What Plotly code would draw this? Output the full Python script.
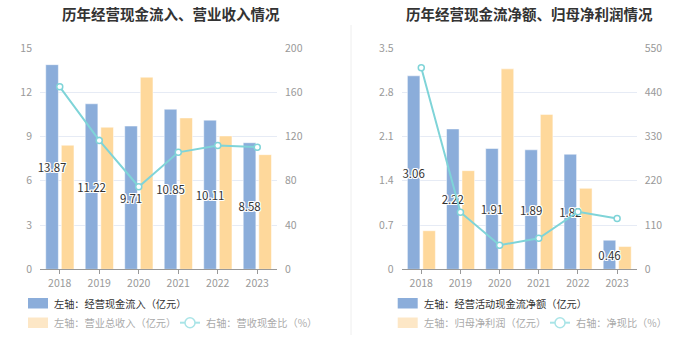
import plotly.graph_objects as go

W, H = 700, 359
FONT = "Noto Sans CJK SC"

years = ["2018", "2019", "2020", "2021", "2022", "2023"]
# Left chart
cash_inflow = [13.87, 11.22, 9.71, 10.85, 10.11, 8.58]
revenue = [8.41, 9.63, 13.02, 10.26, 9.04, 7.77]
inflow_ratio = [164.9, 116.5, 74.6, 105.7, 111.8, 110.4]
# Right chart
net_cash = [3.06, 2.22, 1.91, 1.89, 1.82, 0.46]
net_profit = [0.61, 1.56, 3.17, 2.45, 1.28, 0.36]
net_ratio = [501, 142, 60, 77, 143, 126]

left_ticks = [0, 3, 6, 9, 12, 15]
left_ticks_r = [0, 40, 80, 120, 160, 200]
right_ticks = [0, 0.7, 1.4, 2.1, 2.8, 3.5]
right_ticks_r = [0, 110, 220, 330, 440, 550]

titles = ["历年经营现金流入、营业收入情况", "历年经营现金流净额、归母净利润情况"]
legend_left = ["左轴：经营现金流入（亿元）", "左轴：营业总收入（亿元）", "右轴：营收现金比（%）"]
legend_right = ["左轴：经营活动现金流净额（亿元）", "左轴：归母净利润（亿元）", "右轴：净现比（%）"]

BLUE = "#8badda"
YELLOW = "#fed89b"
TEAL = "#7fd4d8"
SHADOW = "1px 1px 0 #fff, -1px -1px 0 #fff, 1px -1px 0 #fff, -1px 1px 0 #fff, 0 1px 0 #fff, 0 -1px 0 #fff, 1px 0 0 #fff, -1px 0 0 #fff"

BW = 0.32
B_OFF = -0.355
Y_OFF = 0.04

def px(x):
    return x / W

def py(y):
    return 1 - y / H

fig = go.Figure()

def add_chart(xa, ya, ya2, blue, yellow, ratio):
    fig.add_trace(go.Bar(
        x=years, y=blue, xaxis=xa, yaxis=ya, width=BW, offset=B_OFF,
        marker=dict(color=BLUE, line=dict(color="#fff", width=0.5)),
        showlegend=False, hoverinfo="skip"))
    fig.add_trace(go.Bar(
        x=years, y=yellow, xaxis=xa, yaxis=ya, width=BW, offset=Y_OFF,
        marker=dict(color=YELLOW, line=dict(color="#fff", width=0.5)),
        showlegend=False, hoverinfo="skip"))
    # value labels, drawn above both bar series
    fig.add_trace(go.Bar(
        x=years, y=blue, xaxis=xa, yaxis=ya, width=BW, offset=B_OFF,
        marker=dict(color="rgba(0,0,0,0)", line=dict(width=0)),
        text=[f"{v:.2f}" for v in blue], textposition="inside", insidetextanchor="middle",
        constraintext="none", textangle=0,
        textfont=dict(family=FONT, size=11.5, color="#333", shadow=SHADOW),
        showlegend=False, cliponaxis=False, hoverinfo="skip"))
    fig.add_trace(go.Scatter(
        x=years, y=ratio, xaxis=xa, yaxis=ya2, mode="lines+markers",
        line=dict(color=TEAL, width=2),
        marker=dict(symbol="circle", size=6, color="#fff", line=dict(color=TEAL, width=1.5)),
        showlegend=False, cliponaxis=False, hoverinfo="skip"))

add_chart("x", "y", "y2", cash_inflow, revenue, inflow_ratio)
add_chart("x2", "y3", "y4", net_cash, net_profit, net_ratio)

ydom = [py(269.3), py(48)]
tickfont = dict(family=FONT, size=10.5, color="#999")
common_x = dict(type="category", showgrid=False, showline=True, linecolor="#999", linewidth=1,
                ticks="outside", ticklen=4, tickcolor="#999", tickfont=tickfont, fixedrange=True,
                automargin=False)
grid_y = dict(showgrid=True, gridcolor="#e6ebf5", gridwidth=1, zeroline=False, showline=False,
              tickfont=tickfont, ticks="", fixedrange=True, automargin=False)
right_y = dict(showgrid=False, zeroline=False, tickfont=tickfont, ticklabelstandoff=7, fixedrange=True,
               automargin=False, side="right")

fig.update_layout(
    width=W, height=H, margin=dict(l=0, r=0, t=0, b=0, pad=0, autoexpand=False),
    paper_bgcolor="#fff", plot_bgcolor="#fff",
    barmode="overlay",
    font=dict(family=FONT),
    xaxis=dict(domain=[px(40), px(277)], anchor="y", **common_x),
    yaxis=dict(domain=ydom, anchor="x", range=[0, 15], tickvals=left_ticks, ticklabelstandoff=7, **grid_y),
    yaxis2=dict(overlaying="y", anchor="x", range=[0, 200], tickvals=left_ticks_r, **right_y),
    xaxis2=dict(domain=[px(401.7), px(636.7)], anchor="y3", **common_x),
    yaxis3=dict(domain=ydom, anchor="x2", range=[0, 3.5], tickvals=right_ticks,
                ticktext=["0", "0.7", "1.4", "2.1", "2.8", "3.5"], ticklabelstandoff=7, **grid_y),
    yaxis4=dict(overlaying="y3", anchor="x2", range=[0, 550], tickvals=right_ticks_r, **right_y),
)

shapes = []
annotations = []

# titles
for t, cx in zip(titles, [171, 529.5]):
    annotations.append(dict(text=f"<b>{t}</b>", x=px(cx), y=py(13), xref="paper", yref="paper",
                            xanchor="center", yanchor="middle", showarrow=False,
                            font=dict(family=FONT, size=14.5, color="#333")))

# separator
shapes.append(dict(type="line", xref="paper", yref="paper", x0=px(351), x1=px(351), y0=py(25), y1=py(335),
                   line=dict(color="#eeeeee", width=1)))

def rect(x0, y0, x1, y1, color):
    shapes.append(dict(type="rect", xref="paper", yref="paper", x0=px(x0), x1=px(x1), y0=py(y1), y1=py(y0),
                       fillcolor=color, line=dict(width=0), layer="above"))

def label(text, x, y, color):
    annotations.append(dict(text=text, x=px(x), y=py(y), xref="paper", yref="paper", xanchor="left",
                            yanchor="middle", showarrow=False, font=dict(family=FONT, size=10.2, color=color)))

def line_icon(x0, y):
    shapes.append(dict(type="line", xref="paper", yref="paper", x0=px(x0), x1=px(x0 + 20), y0=py(y), y1=py(y),
                       line=dict(color="#a9e4e7", width=2), layer="above"))
    shapes.append(dict(type="circle", xref="paper", yref="paper", x0=px(x0 + 5), x1=px(x0 + 15),
                       y0=py(y + 5), y1=py(y - 5), fillcolor="#fff", line=dict(color="#a9e4e7", width=1.5),
                       layer="above"))

for base, names, x2 in [(28, legend_left, 180), (397.7, legend_right, 550)]:
    rect(base, 298, base + 20, 308.5, BLUE)
    label(names[0], base + 24, 303, "#333")
    rect(base, 317.5, base + 20, 328, "#fde7c6")
    label(names[1], base + 24, 322.7, "#aaa")
    line_icon(x2, 322.7)
    label(names[2], x2 + 24, 322.7, "#aaa")

fig.update_layout(shapes=shapes, annotations=annotations)
fig.write_html("out.html", config={"displayModeBar": False},
               post_script="document.body.style.margin='0px';document.body.style.overflow='hidden';")
